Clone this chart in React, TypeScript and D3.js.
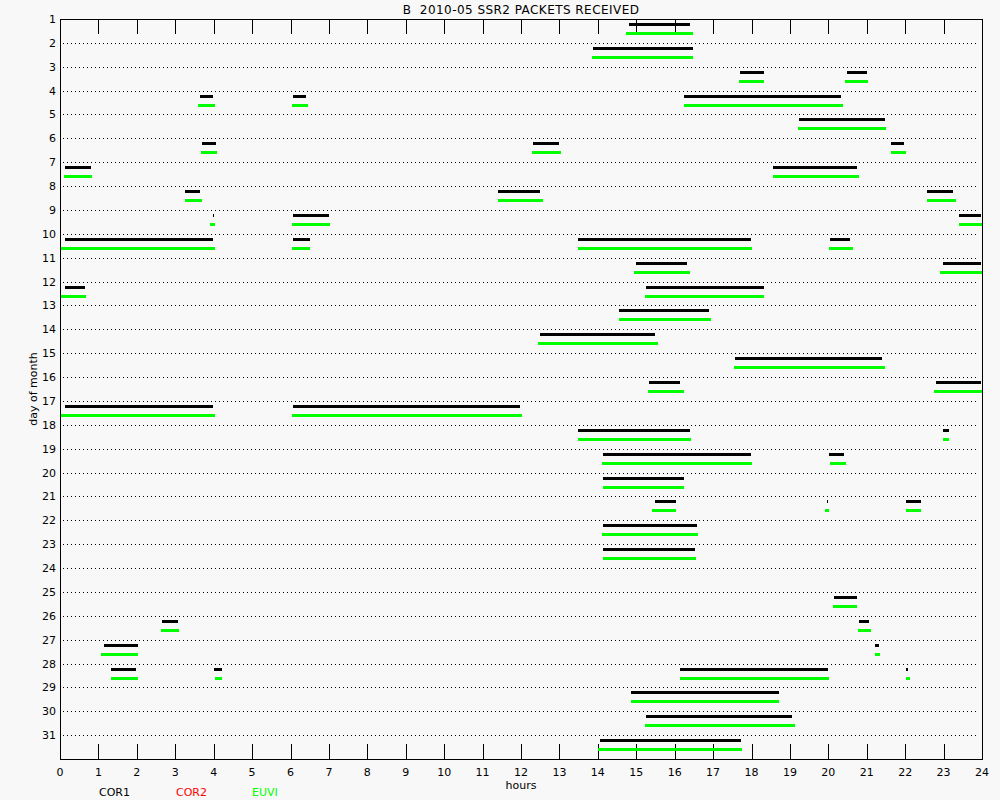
import { useEffect, useRef } from 'react';
import * as d3 from 'd3';

// [day of month, start hour, end hour]
type Pass = [number, number, number];

const chartTitle = 'B  2010-05 SSR2 PACKETS RECEIVED';
const dayLabels = [
  1, 2, 3, 4, 5, 6, 7, 8, 9, 10, 11, 12, 13, 14, 15, 16,
  17, 18, 19, 20, 21, 22, 23, 24, 25, 26, 27, 28, 29, 30, 31,
];
const hourTicks = [
  0, 1, 2, 3, 4, 5, 6, 7, 8, 9, 10, 11, 12, 13, 14, 15, 16, 17, 18, 19, 20, 21, 22, 23, 24,
];
const instruments = ['COR1', 'COR2', 'EUVI'];
const instrumentColors = ['#000000', '#ff0000', '#00ff00'];

const cor1Passes: Pass[] = [
  [1, 14.81, 16.4],
  [2, 13.87, 16.48],
  [3, 17.7, 18.32], [3, 20.48, 21.0],
  [4, 3.64, 3.98], [4, 6.06, 6.4], [4, 16.24, 20.33],
  [5, 19.23, 21.47],
  [6, 3.7, 4.06], [6, 12.31, 12.99], [6, 21.63, 21.97],
  [7, 0.13, 0.81], [7, 18.56, 20.74],
  [8, 3.25, 3.64], [8, 11.4, 12.49], [8, 22.57, 23.24],
  [9, 3.97, 4.0], [9, 6.06, 7.0], [9, 23.4, 23.97],
  [10, 0.13, 3.98], [10, 6.06, 6.51], [10, 13.48, 17.99], [10, 20.04, 20.56],
  [11, 14.99, 16.32], [11, 22.98, 23.97],
  [12, 0.13, 0.65], [12, 15.25, 18.32],
  [13, 14.55, 16.89],
  [14, 12.49, 15.49],
  [15, 17.57, 21.4],
  [16, 15.33, 16.14], [16, 22.8, 23.97],
  [17, 0.13, 3.98], [17, 6.06, 11.97],
  [18, 13.48, 16.4], [18, 22.98, 23.14],
  [19, 14.13, 17.99], [19, 20.02, 20.41],
  [20, 14.13, 16.24],
  [21, 15.49, 16.03], [21, 19.96, 19.99], [21, 22.02, 22.41],
  [22, 14.13, 16.58],
  [23, 14.13, 16.53],
  [25, 20.15, 20.74],
  [26, 2.65, 3.07], [26, 20.8, 21.06],
  [27, 1.15, 2.03], [27, 21.21, 21.32],
  [28, 1.33, 1.98], [28, 4.01, 4.22], [28, 16.14, 19.99], [28, 22.02, 22.07],
  [29, 14.86, 18.71],
  [30, 15.25, 19.05],
  [31, 14.06, 17.72],
];

const cor2Passes: Pass[] = [];

const euviPasses: Pass[] = [
  [1, 14.73, 16.48],
  [2, 13.85, 16.48],
  [3, 17.67, 18.32], [3, 20.43, 21.03],
  [4, 3.59, 4.03], [4, 6.04, 6.45], [4, 16.24, 20.38],
  [5, 19.21, 21.5],
  [6, 3.67, 4.09], [6, 12.29, 13.04], [6, 21.63, 22.02],
  [7, 0.1, 0.83], [7, 18.56, 20.8],
  [8, 3.25, 3.7], [8, 11.4, 12.57], [8, 22.57, 23.32],
  [9, 3.9, 4.03], [9, 6.04, 7.03], [9, 23.4, 24],
  [10, 0.03, 4.03], [10, 6.04, 6.51], [10, 13.48, 18.01], [10, 20.02, 20.64],
  [11, 14.94, 16.4], [11, 22.9, 24],
  [12, 0.03, 0.68], [12, 15.23, 18.32],
  [13, 14.55, 16.94],
  [14, 12.44, 15.56],
  [15, 17.54, 21.47],
  [16, 15.3, 16.24], [16, 22.75, 24],
  [17, 0.03, 4.03], [17, 6.04, 12.02],
  [18, 13.48, 16.42], [18, 22.98, 23.14],
  [19, 14.11, 18.01], [19, 20.04, 20.46],
  [20, 14.13, 16.24],
  [21, 15.41, 16.03], [21, 19.91, 20.02], [21, 22.02, 22.41],
  [22, 14.11, 16.61],
  [23, 14.13, 16.55],
  [25, 20.12, 20.74],
  [26, 2.63, 3.1], [26, 20.77, 21.11],
  [27, 1.07, 2.03], [27, 21.21, 21.34],
  [28, 1.33, 2.03], [28, 4.03, 4.22], [28, 16.14, 20.02], [28, 22.02, 22.12],
  [29, 14.86, 18.71],
  [30, 15.23, 19.13],
  [31, 14.0, 17.75],
];

const FONT = '"DejaVu Sans", sans-serif';

export default function App() {
  const svgRef = useRef<SVGSVGElement>(null);

  useEffect(() => {
    if (!svgRef.current) return;
    const svg = d3.select(svgRef.current);
    svg.selectAll('*').remove();

    const width = 1000;
    const height = 800;

    svg.append('rect').attr('width', width).attr('height', height).attr('fill', '#f8f8f8');

    // hours across, days down (day 1 on the top frame)
    const x = d3.scaleLinear().domain([0, 24]).range([60, 982]);
    const y = d3.scaleLinear().domain([1, 32]).range([19, 759]);
    const row = (d: number) => Math.round(y(d));

    // dotted day lines
    svg
      .append('g')
      .selectAll('line')
      .data(dayLabels.filter(d => d > 1))
      .enter()
      .append('line')
      .attr('x1', x(0) + 3)
      .attr('x2', x(24) - 3)
      .attr('y1', d => row(d) + 0.5)
      .attr('y2', d => row(d) + 0.5)
      .attr('stroke', '#000')
      .attr('stroke-width', 1)
      .attr('stroke-dasharray', '1,3')
      .attr('shape-rendering', 'crispEdges');

    // frame
    svg
      .append('rect')
      .attr('x', x(0) + 0.5)
      .attr('y', row(1) + 0.5)
      .attr('width', x(24) - x(0))
      .attr('height', row(32) - row(1))
      .attr('fill', 'none')
      .attr('stroke', '#000')
      .attr('shape-rendering', 'crispEdges');

    // hour ticks, top and bottom
    const inner = hourTicks.filter(h => h > 0 && h < 24);
    const ticks = svg.append('g').attr('stroke', '#000').attr('shape-rendering', 'crispEdges');
    inner.forEach(h => {
      const xp = Math.round(x(h)) + 0.5;
      ticks.append('line').attr('x1', xp).attr('x2', xp).attr('y1', row(1)).attr('y2', row(1) + 15);
      ticks.append('line').attr('x1', xp).attr('x2', xp).attr('y1', row(32) - 15).attr('y2', row(32));
    });

    // hour labels
    svg
      .append('g')
      .selectAll('text')
      .data(hourTicks)
      .enter()
      .append('text')
      .attr('x', d => x(d))
      .attr('y', 776)
      .attr('text-anchor', 'middle')
      .attr('font-family', FONT)
      .attr('font-size', 11)
      .attr('fill', '#000')
      .text(d => d);

    // day labels
    svg
      .append('g')
      .selectAll('text')
      .data(dayLabels)
      .enter()
      .append('text')
      .attr('x', 56)
      .attr('y', d => row(d) + 4)
      .attr('text-anchor', 'end')
      .attr('font-family', FONT)
      .attr('font-size', 11)
      .attr('fill', '#000')
      .text(d => d);

    // packet passes, one thin bar per instrument inside each day band
    const drawPasses = (passes: Pass[], color: string, offset: number) => {
      svg
        .append('g')
        .selectAll('rect')
        .data(passes)
        .enter()
        .append('rect')
        .attr('x', d => Math.round(x(d[1])))
        .attr('y', d => row(d[0]) + offset)
        .attr('width', d => Math.max(1, Math.round(x(d[2])) - Math.round(x(d[1]))))
        .attr('height', 3)
        .attr('fill', color)
        .attr('shape-rendering', 'crispEdges');
    };
    drawPasses(cor1Passes, instrumentColors[0], 4);
    drawPasses(cor2Passes, instrumentColors[1], 8);
    drawPasses(euviPasses, instrumentColors[2], 13);

    // title (keep the double space)
    svg
      .append('text')
      .attr('x', (x(0) + x(24)) / 2)
      .attr('y', 14)
      .attr('text-anchor', 'middle')
      .attr('font-family', FONT)
      .attr('font-size', 12)
      .attr('letter-spacing', 0.45)
      .attr('fill', '#000')
      .style('white-space', 'pre')
      .text(chartTitle);

    // axis titles
    svg
      .append('text')
      .attr('x', (x(0) + x(24)) / 2)
      .attr('y', 789)
      .attr('text-anchor', 'middle')
      .attr('font-family', FONT)
      .attr('font-size', 11)
      .attr('fill', '#000')
      .text('hours');

    svg
      .append('text')
      .attr('transform', `translate(37,${(row(1) + row(32)) / 2}) rotate(-90)`)
      .attr('text-anchor', 'middle')
      .attr('font-family', FONT)
      .attr('font-size', 11)
      .attr('fill', '#000')
      .text('day of month');

    // legend
    const legendX = [99, 176, 252];
    svg
      .append('g')
      .selectAll('text')
      .data(instruments)
      .enter()
      .append('text')
      .attr('x', (d, i) => legendX[i])
      .attr('y', 796)
      .attr('font-family', FONT)
      .attr('font-size', 11)
      .attr('fill', (d, i) => instrumentColors[i])
      .text(d => d);
  }, []);

  return (
    <div style={{ position: 'fixed', left: 0, top: 0 }}>
      <svg ref={svgRef} width={1000} height={800} style={{ display: 'block' }} />
    </div>
  );
}
